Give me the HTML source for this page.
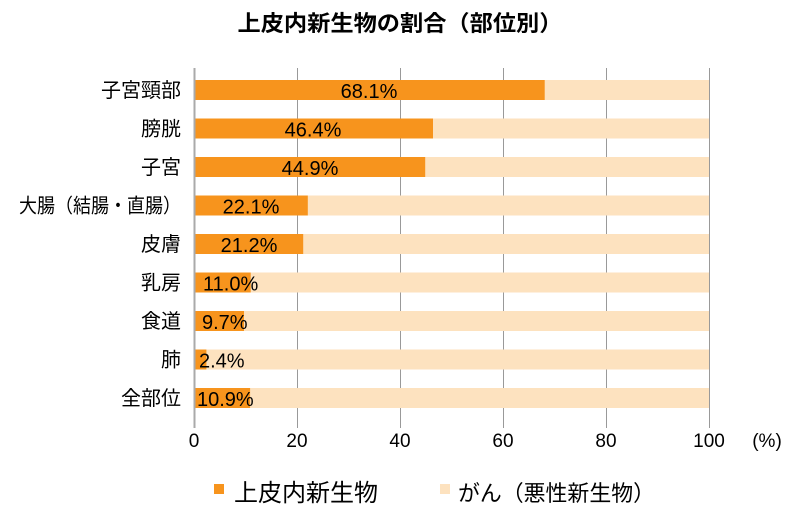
<!DOCTYPE html>
<html><head><meta charset="utf-8"><style>
body{margin:0;background:#fff;}
svg text{font-family:"Liberation Sans","Noto Sans CJK JP",sans-serif;}
</style></head><body>
<svg width="800" height="521" xmlns="http://www.w3.org/2000/svg">
<text x="400" y="31" text-anchor="middle" font-size="22" font-weight="bold" fill="#000" textLength="325" lengthAdjust="spacingAndGlyphs">上皮内新生物の割合（部位別）</text>
<g stroke="#999" stroke-width="1">
<line x1="297.5" y1="68" x2="297.5" y2="428"/>
<line x1="400.5" y1="68" x2="400.5" y2="428"/>
<line x1="503.5" y1="68" x2="503.5" y2="428"/>
<line x1="606.5" y1="68" x2="606.5" y2="428"/>
<line x1="709.5" y1="68" x2="709.5" y2="428"/>
</g>
<g>
<rect x="194" y="80" width="515" height="20" fill="#FDE2BF"/><rect x="194" y="80" width="350.7" height="20" fill="#F7941D"/>
<rect x="194" y="118.5" width="515" height="20" fill="#FDE2BF"/><rect x="194" y="118.5" width="239" height="20" fill="#F7941D"/>
<rect x="194" y="157" width="515" height="20" fill="#FDE2BF"/><rect x="194" y="157" width="231.2" height="20" fill="#F7941D"/>
<rect x="194" y="195.5" width="515" height="20" fill="#FDE2BF"/><rect x="194" y="195.5" width="113.8" height="20" fill="#F7941D"/>
<rect x="194" y="234" width="515" height="20" fill="#FDE2BF"/><rect x="194" y="234" width="109.2" height="20" fill="#F7941D"/>
<rect x="194" y="272.5" width="515" height="20" fill="#FDE2BF"/><rect x="194" y="272.5" width="56.7" height="20" fill="#F7941D"/>
<rect x="194" y="311" width="515" height="20" fill="#FDE2BF"/><rect x="194" y="311" width="50" height="20" fill="#F7941D"/>
<rect x="194" y="349.5" width="515" height="20" fill="#FDE2BF"/><rect x="194" y="349.5" width="12.4" height="20" fill="#F7941D"/>
<rect x="194" y="388" width="515" height="20" fill="#FDE2BF"/><rect x="194" y="388" width="56.1" height="20" fill="#F7941D"/>
</g>
<g font-size="20" fill="#000" text-anchor="end">
<text x="181" y="97">子宮頸部</text>
<text x="181" y="135.5">膀胱</text>
<text x="181" y="174">子宮</text>
<text x="181" y="212.5" textLength="162" lengthAdjust="spacingAndGlyphs">大腸（結腸・直腸）</text>
<text x="181" y="251">皮膚</text>
<text x="181" y="289.5">乳房</text>
<text x="181" y="328">食道</text>
<text x="181" y="366.5">肺</text>
<text x="181" y="405">全部位</text>
</g>
<g font-size="20" fill="#000" text-anchor="middle">
<text x="369" y="98">68.1%</text>
<text x="313" y="136.5">46.4%</text>
<text x="310" y="175">44.9%</text>
<text x="251" y="213.5">22.1%</text>
<text x="249" y="252">21.2%</text>
</g>
<g font-size="20" fill="#000">
<text x="203" y="290.5">11.0%</text>
<text x="202" y="329">9.7%</text>
<text x="199" y="367.5">2.4%</text>
<text x="197" y="406">10.9%</text>
</g>
<line x1="194.5" y1="68" x2="194.5" y2="428" stroke="#aaa" stroke-width="2"/>
<g font-size="19" fill="#000" text-anchor="middle">
<text x="194" y="447">0</text><text x="297" y="447">20</text><text x="400" y="447">40</text>
<text x="503" y="447">60</text><text x="606" y="447">80</text><text x="709" y="447">100</text>
<text x="767" y="447">(%)</text>
</g>
<rect x="214" y="484" width="10" height="10" fill="#F7941D"/>
<text x="234" y="501" font-size="24">上皮内新生物</text>
<rect x="440" y="484" width="10" height="10" fill="#FDE2BF"/>
<text x="458" y="501" font-size="22" textLength="197" lengthAdjust="spacingAndGlyphs">がん（悪性新生物）</text>
</svg>
</body></html>
